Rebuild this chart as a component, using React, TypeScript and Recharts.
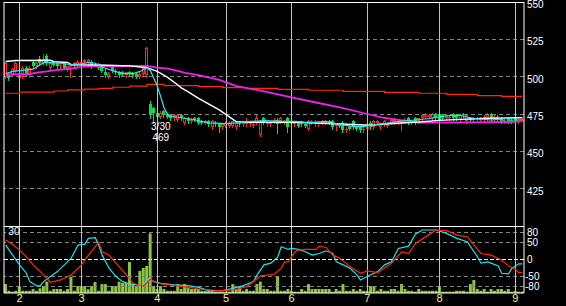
import React from 'react';
import { ComposedChart, Bar, Line, XAxis, YAxis, ReferenceLine, ReferenceDot } from 'recharts';

// month boundaries (index of first trading day) and their labels
const monthStarts = [4, 22, 44, 64, 83, 105, 126, 148];
const monthLabels = ['2', '3', '4', '5', '6', '7', '8', '9'];
const priceTicks = [425, 450, 475, 500, 525, 550];
const priceGrid = [425, 450, 475, 500, 525];
const oscTicks = [80, 50, 0, -50, -80];

// daily candles: [open, high, low, close]
const candles = [
  [500, 510, 499, 509], [501, 502, 498, 499], [502, 506, 501, 505], [504, 510, 503, 509], [499, 503, 498, 502],
  [500, 507, 499, 506], [506, 507, 501, 502], [501, 507, 500, 506], [510, 511, 506, 507], [507, 510, 506, 509],
  [512, 514, 508, 509], [509, 515, 508, 512], [514, 515, 508, 509], [506, 510, 505, 509], [509, 510, 507, 508],
  [509, 510, 506, 507], [507, 509, 506, 508], [509, 510, 505, 506], [506, 507, 504, 507], [507, 509, 500, 508],
  [507, 510, 506, 509], [508, 511, 507, 510], [509, 511, 508, 510], [510, 512, 509, 511], [509, 512, 508, 511],
  [510, 511, 506, 507], [508, 509, 507, 508], [508, 509, 505, 506], [507, 508, 503, 504], [503, 505, 500, 501],
  [500, 503, 499, 502], [507, 508, 503, 504], [504, 505, 502, 503], [503, 504, 500, 501], [503, 504, 501, 502],
  [501, 503, 500, 503], [503, 504, 501, 502], [502, 503, 500, 501], [502, 503, 499, 500], [500, 503, 499, 502],
  [502, 507, 501, 506], [501, 520, 500, 519], [482, 484, 472, 474], [479, 480, 469, 476], [476, 477, 472, 473],
  [473, 477, 472, 476], [477, 478, 473, 474], [475, 476, 472, 473], [474, 475, 471, 472], [472, 475, 471, 474],
  [471, 475, 470, 474], [474, 475, 471, 472], [469, 473, 468, 472], [472, 473, 469, 470], [470, 472, 469, 471],
  [472, 473, 470, 471], [472, 473, 468, 469], [470, 471, 468, 469], [469, 471, 468, 470], [470, 471, 467, 468],
  [466, 471, 465, 470], [469, 470, 467, 468], [468, 469, 463, 466], [466, 469, 465, 468], [467, 470, 466, 469],
  [467, 470, 466, 469], [467, 470, 466, 470], [466, 470, 465, 469], [469, 470, 467, 468], [468, 470, 467, 469],
  [468, 472, 467, 469], [468, 470, 467, 469], [468, 469, 466, 468], [469, 474, 468, 472], [461, 471, 460, 470],
  [472, 473, 468, 469], [468, 470, 467, 469], [468, 470, 467, 469], [470, 472, 469, 471], [471, 472, 462, 468],
  [470, 473, 469, 472], [470, 471, 468, 470], [472, 473, 463, 466], [468, 470, 467, 469], [468, 470, 467, 469],
  [469, 470, 466, 467], [469, 470, 467, 468], [468, 469, 466, 467], [465, 471, 464, 470], [469, 471, 468, 470],
  [468, 471, 467, 469], [469, 470, 467, 469], [469, 471, 468, 470], [469, 471, 468, 470], [470, 471, 468, 469],
  [470, 471, 465, 466], [467, 469, 464, 468], [468, 469, 466, 467], [469, 470, 463, 464], [464, 466, 463, 465],
  [466, 467, 464, 465], [470, 471, 465, 466], [466, 467, 464, 465], [466, 467, 463, 464], [464, 466, 463, 465],
  [465, 467, 464, 466], [469, 470, 465, 466], [466, 471, 465, 470], [469, 471, 468, 470], [466, 469, 465, 468],
  [468, 471, 467, 470], [467, 469, 466, 468], [469, 472, 468, 471], [469, 472, 468, 471], [470, 471, 468, 470],
  [469, 471, 464, 470], [470, 472, 469, 471], [472, 473, 468, 469], [469, 471, 468, 470], [472, 473, 468, 469],
  [470, 472, 469, 472], [472, 475, 471, 474], [473, 476, 472, 475], [473, 475, 472, 474], [472, 476, 471, 475],
  [475, 476, 471, 472], [475, 476, 469, 470], [474, 475, 471, 472], [472, 475, 471, 474], [472, 474, 471, 473],
  [475, 476, 471, 472], [474, 475, 471, 472], [471, 475, 470, 474], [475, 476, 473, 474], [470, 475, 469, 474],
  [472, 473, 470, 471], [471, 473, 470, 472], [472, 473, 471, 472], [471, 473, 470, 472], [472, 474, 471, 473],
  [472, 476, 471, 475], [475, 476, 471, 472], [471, 474, 470, 473], [473, 474, 471, 472], [472, 473, 469, 470],
  [470, 472, 469, 471], [472, 473, 469, 470], [471, 472, 469, 470], [472, 473, 469, 470], [470, 472, 469, 471],
  [471, 472, 470, 471],
];

const volumes = [
  4.0, 1.0, 0.6, 1.0, 3.1, 1.0, 1.0, 1.0, 1.8, 1.0,
  2.1, 3.1, 5.1, 1.0, 1.8, 1.8, 1.8, 1.0, 1.8, 7.3,
  1.0, 3.1, 3.1, 3.1, 1.7, 3.1, 4.9, 1.0, 4.0, 4.0,
  1.0, 3.1, 3.1, 5.1, 4.6, 4.6, 13.9, 4.0, 3.1, 9.9,
  11.2, 12.1, 26.7, 3.1, 1.8, 3.1, 1.8, 1.0, 1.0, 1.0,
  4.0, 1.8, 4.0, 2.5, 1.8, 1.8, 1.8, 1.0, 1.0, 1.0,
  1.0, 0.6, 0.6, 0.6, 0.6, 0.6, 4.0, 1.8, 2.8, 1.0,
  1.8, 1.0, 1.0, 4.0, 5.1, 1.8, 1.8, 1.0, 1.0, 7.3,
  1.0, 1.0, 1.8, 1.0, 0.6, 0.6, 1.8, 1.0, 4.0, 1.8,
  1.8, 1.8, 1.8, 1.8, 1.8, 0.6, 1.8, 1.0, 4.0, 1.0,
  1.0, 1.8, 1.0, 1.8, 1.0, 1.0, 3.1, 3.1, 1.0, 1.8,
  1.0, 1.0, 1.8, 1.8, 1.0, 4.0, 1.8, 1.0, 1.0, 0.6,
  1.8, 1.0, 1.0, 1.0, 1.0, 1.0, 3.1, 0.6, 0.6, 0.6,
  0.6, 1.0, 1.0, 1.0, 0.6, 4.0, 5.8, 1.8, 1.0, 1.8,
  0.6, 1.8, 1.0, 1.8, 1.8, 1.0, 1.8, 0.6, 1.0, 0.6, 0.6,
];

// moving averages read at [day index, value]
const ma5Pts = [
  [0, 502], [2, 503.5], [4, 504], [8, 505], [10, 508], [11, 509.4], [13, 509.4], [16, 509], [19, 508],
  [22, 508.5], [24, 509.5], [26, 509], [28, 506.5], [31, 504], [34, 502], [37, 502], [39, 503.5], [41, 506],
  [42, 504], [43, 499], [44, 493.7], [45, 486.6], [46, 479], [47, 474.8], [48, 473.5], [51, 472.5], [55, 471],
  [59, 469], [64, 468.5], [67, 469], [71, 470], [75, 470.5], [80, 470], [84, 470], [88, 469], [93, 470],
  [97, 468], [101, 466.5], [104, 466.5], [106, 467.6], [110, 468.5], [114, 470], [119, 471], [123, 472],
  [126, 473], [129, 474], [132, 474], [136, 472], [141, 471], [146, 472], [150, 471.5],
];
const ma25Pts = [
  [0, 510.2], [3, 510.8], [13, 511], [14, 510], [18, 509.5], [19, 508], [27, 507.8], [36, 507.2], [41, 506],
  [44, 503.5], [47, 499.5], [50, 494.4], [51, 492.5], [53, 489.8], [56, 485.5], [62, 477.7], [67, 469.8],
  [71, 469.5], [85, 469.5], [106, 467.5], [110, 468.3], [120, 469.6], [126, 470.7], [132, 471.4], [138, 472],
  [150, 472.6],
];
const ma75Pts = [
  [0, 501.5], [7, 501.8], [9, 502.7], [12, 503.5], [15, 504.5], [19, 505.3], [22, 506.5], [27, 507], [41, 507.2],
  [44, 506], [47, 505.4], [50, 503.8], [52, 502.5], [56, 501], [62, 497.8], [67, 493.7], [74, 490.6], [82, 486.6],
  [89, 483.2], [97, 479.5], [105, 475], [109, 472.8], [113, 471.4], [120, 469.2], [135, 469.3], [148, 469.7],
  [150, 470.5],
];
const ma200Pts = [
  [0, 488.9], [4, 489.7], [14, 490.4], [18, 491.1], [23, 491.7], [27, 492.2], [31, 492.9], [36, 493.7], [41, 494.9],
  [46, 494], [56, 493.3], [63, 492.6], [70, 492.2], [79, 491.5], [88, 490.9], [98, 490.2], [110, 489.5],
  [120, 488.9], [128, 488.2], [137, 487.3], [144, 486.8], [150, 486.8],
];

// oscillator (fast / slow)
const oscFastPts = [
  [0, 43], [2, 13], [4, -16], [6, -41], [7, -66], [9, -79], [10, -79], [11, -66], [13, -51], [15, -36], [17, -16],
  [19, 4], [21, 43], [23, 46], [24, 63], [26, 65], [27, 43], [28, 13], [30, -26], [32, -51], [34, -66], [36, -73],
  [38, -76], [40, -78], [41, -56], [43, -66], [45, -71], [49, -76], [53, -78], [56, -83], [59, -93], [63, -93],
  [66, -86], [69, -78], [72, -66], [73, -46], [75, -16], [77, -11], [79, 8], [80, 38], [82, 30], [83, 33], [85, 30],
  [87, 23], [89, 13], [91, 18], [93, 26], [95, 18], [96, -7], [98, -16], [100, -26], [102, -46], [103, -61],
  [105, -51], [108, -36], [110, -16], [112, -7], [114, 33], [117, 40], [119, 76], [121, 88], [125, 88], [128, 78],
  [131, 63], [134, 53], [137, 8], [138, -11], [140, -7], [143, -19], [144, -41], [146, -43], [147, -26], [149, -13],
  [150, -13],
];
const oscSlowPts = [
  [0, 58], [2, 45], [4, 28], [6, 8], [8, -16], [11, -46], [13, -68], [16, -61], [19, -46], [22, -16], [24, 13],
  [27, 51], [28, 23], [30, 13], [33, -22], [35, -46], [37, -71], [40, -79], [42, -59], [44, -71], [49, -78],
  [54, -84], [56, -88], [62, -93], [66, -91], [70, -81], [74, -49], [78, -44], [80, -26], [81, -7], [82, -7],
  [84, 23], [85, 28], [87, 30], [90, 30], [91, 40], [93, 36], [95, 13], [97, 4], [100, -22], [103, -41], [105, -34],
  [108, -39], [112, -11], [115, 23], [117, 18], [119, 48], [123, 75], [125, 88], [128, 86], [131, 73], [134, 68],
  [138, 18], [141, 13], [144, -2], [146, -19], [148, -29], [149, -39], [150, -39],
];

const lowMark = { idx: 43, date: '3/30', value: 469 };

const rows: any[] = candles.map(([open, high, low, close], i) => ({
  idx: i, open, high, low, close, range: [low, high], vol: volumes[i],
  ma5: null, ma25: null, ma75: null, ma200: null, fast: null, slow: null,
}));
ma5Pts.forEach(([i, v]) => (rows[i].ma5 = v));
ma25Pts.forEach(([i, v]) => (rows[i].ma25 = v));
ma75Pts.forEach(([i, v]) => (rows[i].ma75 = v));
ma200Pts.forEach(([i, v]) => (rows[i].ma200 = v));
oscFastPts.forEach(([i, v]) => (rows[i].fast = v));
oscSlowPts.forEach(([i, v]) => (rows[i].slow = v));

const RED = '#ff2424';
const GREEN = '#00e040';
const DASH = '#858585';
const FONT = '"Liberation Sans", Arial, sans-serif';

const Candle = (props: any) => {
  const { x, y, width, height, payload } = props;
  if (x == null || y == null || !payload) return null;
  const { open, high, low, close } = payload;
  const span = high - low || 1;
  const toY = (v: number) => Math.round(y + ((high - v) / span) * Math.abs(height));
  const c = Math.floor(x + width / 2);
  const hi = toY(high);
  const lo = toY(low);
  const top = toY(Math.max(open, close));
  const bot = toY(Math.min(open, close));
  const up = close >= open;
  const col = up ? RED : GREEN;
  return (
    <g shapeRendering="crispEdges">
      <line x1={c + 0.5} x2={c + 0.5} y1={hi} y2={lo + 1} stroke={col} />
      {up && bot - top >= 2 ? (
        <rect x={c - 0.5} y={top + 0.5} width={2} height={bot - top - 1} fill="#000" stroke={col} />
      ) : (
        <rect x={c - 1} y={top} width={3} height={Math.max(1, bot - top)} fill={col} />
      )}
    </g>
  );
};

const PriceTick = ({ x, y, payload }: any) => (
  <text x={x} y={y + 2.6} fill="#fff" fontSize={10} fontFamily={FONT} dominantBaseline="central">
    {payload.value}
  </text>
);

const OscTick = ({ x, y, payload }: any) => (
  <text x={payload.value < 0 ? x - 2 : x} y={y} fill="#fff" fontSize={10} fontFamily={FONT} dominantBaseline="central">
    {payload.value}
  </text>
);

const LowLabel = ({ viewBox }: any) => {
  const cx = viewBox.x + viewBox.width / 2 + 7;
  const cy = viewBox.y + viewBox.height / 2;
  return (
    <g fill="#fff" fontSize={10} fontFamily={FONT} textAnchor="middle">
      <text x={cx} y={cy + 4} dominantBaseline="central">{lowMark.date}</text>
      <text x={cx} y={cy + 15} dominantBaseline="central">{lowMark.value}</text>
    </g>
  );
};

const VolLabel = ({ viewBox }: any) => (
  <text x={viewBox.x - 1} y={viewBox.y + 5} fill="#fff" fontSize={10.5} fontFamily={FONT} dominantBaseline="central">
    30
  </text>
);

export default function App() {
  return (
    <div style={{ position: 'absolute', left: 0, top: 0, width: 566, height: 306, background: '#000', overflow: 'hidden' }}>
      <div style={{ position: 'absolute', left: 0, top: 0 }}>
        <ComposedChart width={566} height={226} data={rows} margin={{ top: 2, right: 0, bottom: 0, left: 0 }}>
          <XAxis dataKey="idx" type="category" hide />
          <YAxis yAxisId="frame" orientation="left" width={4} domain={[400, 550]} tick={false} tickLine={false}
            axisLine={{ stroke: '#fff' }} allowDataOverflow />
          <YAxis yAxisId="price" orientation="right" width={42} domain={[400, 550]} ticks={priceTicks} interval={0}
            tick={<PriceTick />} tickSize={0} tickMargin={3} tickLine={false} axisLine={{ stroke: '#fff' }} allowDataOverflow />
          {priceGrid.map((v) => (
            <ReferenceLine key={v} yAxisId="price" y={v} stroke={DASH} strokeDasharray="4 3" shapeRendering="crispEdges" />
          ))}
          {monthStarts.map((m) => (
            <ReferenceLine key={m} yAxisId="price" x={m} stroke="#c0c0c0" shapeRendering="crispEdges" />
          ))}
          <ReferenceLine yAxisId="price" y={550} stroke="#fff" shapeRendering="crispEdges" />
          <Bar yAxisId="price" dataKey="range" barSize={3} shape={(p: any) => <Candle {...p} />} isAnimationActive={false} />
          <Line yAxisId="price" dataKey="ma200" type="stepAfter" stroke="#ff2a00" strokeWidth={1.2} dot={false} activeDot={false} connectNulls isAnimationActive={false} />
          <Line yAxisId="price" dataKey="ma75" stroke="#ee22ee" strokeWidth={1.8} dot={false} activeDot={false} connectNulls isAnimationActive={false} />
          <Line yAxisId="price" dataKey="ma25" stroke="#ffffff" strokeWidth={1.4} dot={false} activeDot={false} connectNulls isAnimationActive={false} />
          <Line yAxisId="price" dataKey="ma5" stroke="#33e6f2" strokeWidth={1.2} dot={false} activeDot={false} connectNulls isAnimationActive={false} />
          <ReferenceDot yAxisId="price" x={lowMark.idx} y={lowMark.value} r={0} fill="none" stroke="none" label={<LowLabel />} />
        </ComposedChart>
      </div>
      <div style={{ position: 'absolute', left: 0, top: 226 }}>
        <ComposedChart width={566} height={80} data={rows} margin={{ top: 0, right: 0, bottom: 0, left: 0 }}>
          <XAxis dataKey="idx" type="category" ticks={monthStarts} interval={0} height={13} tickSize={0} tickMargin={1}
            tickLine={false} axisLine={{ stroke: '#fff' }}
            tickFormatter={(v: number) => monthLabels[monthStarts.indexOf(v)]}
            tick={{ fill: '#f0f0a0', fontSize: 11, fontFamily: FONT }} />
          <YAxis yAxisId="vol" orientation="left" width={4} domain={[0, 30]} tick={false} tickLine={false}
            axisLine={{ stroke: '#fff' }} allowDataOverflow />
          <YAxis yAxisId="osc" orientation="right" width={42} domain={[-100, 100]} ticks={oscTicks} interval={0}
            tick={<OscTick />} tickSize={0} tickMargin={3} tickLine={false} axisLine={{ stroke: '#fff' }} allowDataOverflow />
          {[80, 50, -50, -80].map((v) => (
            <ReferenceLine key={v} yAxisId="osc" y={v} stroke={DASH} strokeDasharray="4 3" shapeRendering="crispEdges" />
          ))}
          <ReferenceLine yAxisId="osc" y={0} stroke="#ffffff" strokeDasharray="4 2" shapeRendering="crispEdges" />
          {monthStarts.map((m) => (
            <ReferenceLine key={m} yAxisId="osc" x={m} stroke="#c0c0c0" shapeRendering="crispEdges" />
          ))}
          <ReferenceLine yAxisId="osc" y={100} stroke="#fff" shapeRendering="crispEdges" />
          <Bar yAxisId="vol" dataKey="vol" barSize={3} fill="#8cc43c" isAnimationActive={false} />
          <Line yAxisId="osc" dataKey="fast" stroke="#22e0f0" strokeWidth={1.2} dot={false} activeDot={false} connectNulls isAnimationActive={false} />
          <Line yAxisId="osc" dataKey="slow" stroke="#ff2a00" strokeWidth={1.2} dot={false} activeDot={false} connectNulls isAnimationActive={false} />
          <ReferenceDot yAxisId="vol" x={1} y={30} r={0} fill="none" stroke="none" label={<VolLabel />} />
        </ComposedChart>
      </div>
    </div>
  );
}
